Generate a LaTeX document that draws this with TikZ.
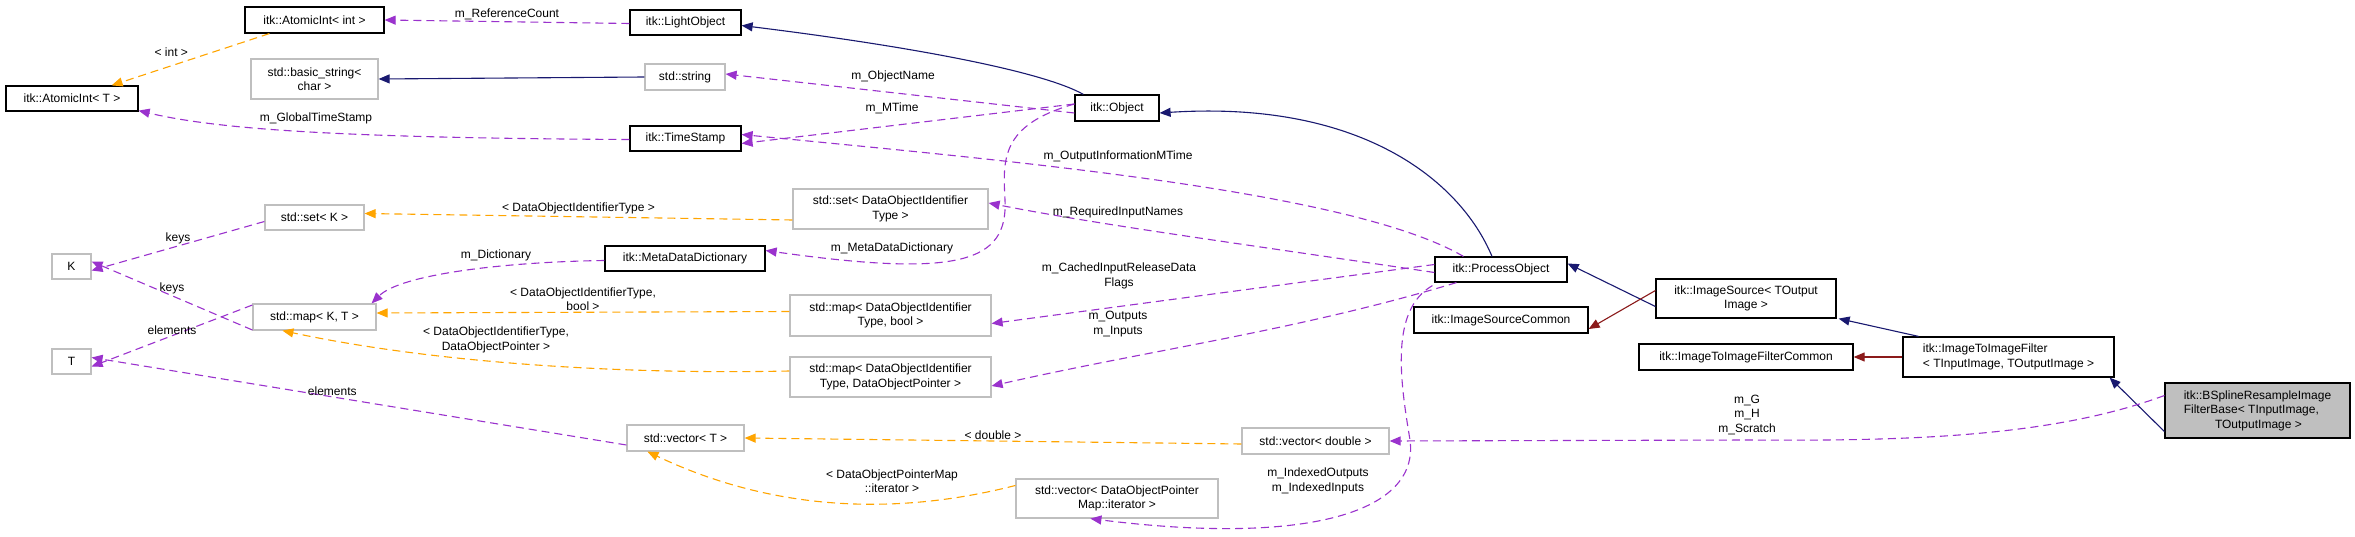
\documentclass[tikz,border=0pt]{standalone}
\usepackage{fontspec}
\setmainfont{Liberation Sans}
\usetikzlibrary{arrows.meta}
\definecolor{inhC}{HTML}{191970}
\definecolor{privC}{HTML}{8B1A1A}
\definecolor{tmplC}{HTML}{FFA500}
\definecolor{useC}{HTML}{9A32CD}
\definecolor{grayB}{HTML}{BFBFBF}
\newcommand{\cbox}[7]{\node[#7, minimum width={#4-#2}, minimum height={#5-#3}] (#1) at ({(#2+#4)/2},{(#3+#5)/2}) {#6};}
\begin{document}
\begin{tikzpicture}[x=1pt,y=-1pt,
  every node/.style={font=\fontsize{12}{14.5}\selectfont, inner sep=0pt, align=center},
  doc/.style={draw=black, line width=1.2pt, fill=white},
  und/.style={draw=grayB, line width=1.2pt, fill=white},
  me/.style={draw=black, line width=1.2pt, fill=grayB},
  tip/.style={-{Triangle[length=11pt,width=9pt]}},
  inh/.style={tip, draw=inhC, line width=1.1pt},
  priv/.style={tip, draw=privC, line width=1.1pt},
  tmpl/.style={tip, draw=tmplC, line width=1.1pt, dash pattern=on 8pt off 5pt},
  use/.style={tip, draw=useC, line width=1.1pt, dash pattern=on 8pt off 5pt},
  lab/.style={font=\fontsize{12}{14.5}\selectfont}]
\useasboundingbox (0,0) rectangle (2355,537);
\fill[white] (0,0) rectangle (2355,537);
% nodes
\cbox{aint}{245}{7}{384}{33}{itk::AtomicInt< int >}{doc}
\cbox{aT}{6}{86}{138}{111}{itk::AtomicInt< T >}{doc}
\cbox{bstr}{251}{59}{378}{99}{std::basic\_string<\\char >}{und}
\cbox{setK}{265}{205}{364}{230}{std::set< K >}{und}
\cbox{K}{52}{254}{91}{279}{K}{und}
\cbox{mapKT}{253}{304}{376}{330}{std::map< K, T >}{und}
\cbox{T}{52}{349}{91}{374}{T}{und}
\cbox{light}{630}{10}{741}{35}{itk::LightObject}{doc}
\cbox{str}{645}{64}{725}{90}{std::string}{und}
\cbox{obj}{1075}{95}{1159}{121}{itk::Object}{doc}
\cbox{ts}{630}{126}{741}{151}{itk::TimeStamp}{doc}
\cbox{setD}{793}{189}{988}{229}{std::set< DataObjectIdentifier\\Type >}{und}
\cbox{mdd}{605}{246}{765}{271}{itk::MetaDataDictionary}{doc}
\cbox{mapB}{790}{295}{991}{336}{std::map< DataObjectIdentifier\\Type, bool >}{und}
\cbox{mapP}{790}{357}{991}{397}{std::map< DataObjectIdentifier\\Type, DataObjectPointer >}{und}
\cbox{vecT}{627}{425}{744}{451}{std::vector< T >}{und}
\cbox{vecD}{1242}{428}{1389}{454}{std::vector< double >}{und}
\cbox{vecM}{1016}{479}{1218}{518}{std::vector< DataObjectPointer\\Map::iterator >}{und}
\cbox{po}{1435}{257}{1567}{282}{itk::ProcessObject}{doc}
\cbox{isc}{1414}{307}{1588}{333}{itk::ImageSourceCommon}{doc}
\cbox{is}{1656}{279}{1836}{318}{itk::ImageSource< TOutput\\Image >}{doc}
\cbox{itic}{1639}{344}{1853}{370}{itk::ImageToImageFilterCommon}{doc}
\node[doc, minimum width=211, minimum height=40, align=left] (itif) at (2008.5,357) {itk::ImageToImageFilter\\< TInputImage, TOutputImage >};
\node[me, minimum width=185, minimum height=55, align=left] (bs) at (2257.5,410.5) {itk::BSplineResampleImage\\FilterBase< TInputImage,\\\hspace*{2.6em}TOutputImage >};
% coordinates
\coordinate (c1) at (1750,440);
% inheritance
\draw[inh] ([xshift=9pt]obj.north west) .. controls (1040,70) and (900,45) .. ([yshift=-3pt]light.east);
\draw[inh] (str.west) -- (bstr.east);
\draw[inh] ([xshift=-9pt]po.north) .. controls (1460,180) and (1360,100) .. ([yshift=-5pt]obj.east);
\draw[inh] ([yshift=-8pt]is.west) -- ([yshift=6pt]po.east);
\draw[inh] ([xshift=-90pt]itif.north) -- ([xshift=2pt]is.south east);
\draw[inh] ([yshift=-21pt]bs.west) -- ([xshift=-5pt]itif.south east);
\draw[priv] ([yshift=8pt]is.west) -- ([yshift=-9pt]isc.east);
\draw[priv] (itif.west) -- (itic.east);
% templates
\draw[tmpl] ([xshift=25pt]aint.south west) -- node[lab, above left=2pt, pos=0.5] {< int >} ([xshift=-27pt]aT.north east);
\draw[tmpl] ([yshift=-11pt]setD.west) -- node[lab, above=2pt] {< DataObjectIdentifierType >} ([yshift=4pt]setK.east);
\draw[tmpl] ([yshift=4pt]mapB.west) -- node[lab, above=1pt, pos=0.5] {< DataObjectIdentifierType,\\bool >} ([yshift=4pt]mapKT.east);
\draw[tmpl] ([yshift=6pt]mapP.west) .. controls (600,375) and (420,360) .. ([xshift=30pt]mapKT.south west);
\node[lab] at (496,340) {< DataObjectIdentifierType,\\DataObjectPointer >};
\draw[tmpl] ([yshift=-3pt]vecD.west) -- node[lab, above=1pt] {< double >} ([yshift=0pt]vecT.east);
\draw[tmpl] ([yshift=13pt]vecM.west) .. controls (880,520) and (760,505) .. ([xshift=21pt]vecT.south west);
\node[lab] at (892,481) {< DataObjectPointerMap\\::iterator >};
% usage
\draw[use] ([yshift=-1pt]light.west) -- node[lab, above=1pt] {m\_ReferenceCount} ([yshift=0pt]aint.east);
\draw[use] ([yshift=-5pt]obj.west) -- ([yshift=3pt]str.east);
\node[lab] at (893,76) {m\_ObjectName};
\draw[use] ([yshift=4pt]obj.west) -- ([yshift=-5pt]ts.east);
\node[lab] at (892,108) {m\_MTime};
\draw[use] ([yshift=-1pt]ts.west) .. controls (350,138) and (220,130) .. ([yshift=1pt]aT.south east);
\node[lab] at (316,118) {m\_GlobalTimeStamp};
\draw[use] ([xshift=29pt]po.north west) .. controls (1350,190) and (1000,160) .. ([yshift=4pt]ts.east);
\node[lab] at (1118,156) {m\_OutputInformationMTime};
\draw[use] ([yshift=-3pt]po.west) .. controls (1250,245) and (1100,225) .. ([yshift=6pt]setD.east);
\node[lab] at (1118,212) {m\_RequiredInputNames};
\draw[use] ([yshift=4pt]obj.west) .. controls (1000,125) and (1003,160) .. (1005,200) .. controls (1008,262) and (960,278) .. ([yshift=8pt]mdd.east);
\node[lab] at (892,248) {m\_MetaDataDictionary};
\draw[use] ([yshift=5pt]po.west) -- ([yshift=-8pt]mapB.east);
\node[lab] at (1119,276) {m\_CachedInputReleaseData\\Flags};
\draw[use] ([xshift=22pt]po.south west) .. controls (1300,330) and (1150,350) .. ([yshift=-9pt]mapP.east);
\node[lab] at (1118,324) {m\_Outputs\\m\_Inputs};
\draw[use] ([xshift=-2pt,yshift=-3pt]po.south west) .. controls (1390,310) and (1400,380) .. (1410,440) .. controls (1420,515) and (1300,545) .. ([xshift=75pt]vecM.south west);
\node[lab] at (1318,481) {m\_IndexedOutputs\\m\_IndexedInputs};
\draw[use] ([yshift=15pt]bs.west) .. controls (2050,438) and (1900,441) .. (c1) -- ([yshift=0pt]vecD.east);
\node[lab] at (1747,415) {m\_G\\m\_H\\m\_Scratch};
\draw[use] ([yshift=-4pt]setK.west) -- node[lab, above=1pt] {keys} ([yshift=-4pt]K.east);
\draw[use] ([yshift=-13pt]mapKT.west) -- node[lab, above=1pt] {keys} ([yshift=5pt]K.east);
\draw[use] ([yshift=12pt]mapKT.west) -- node[lab, above=1pt] {elements} ([yshift=-5pt]T.east);
\draw[use] ([yshift=-7pt]vecT.west) -- node[lab, above=1pt, pos=0.55] {elements} ([yshift=4pt]T.east);
\draw[use] ([yshift=-2pt]mdd.west) .. controls (500,262) and (400,275) .. ([xshift=-5pt]mapKT.north east);
\node[lab] at (496,255) {m\_Dictionary};
\end{tikzpicture}
\end{document}
